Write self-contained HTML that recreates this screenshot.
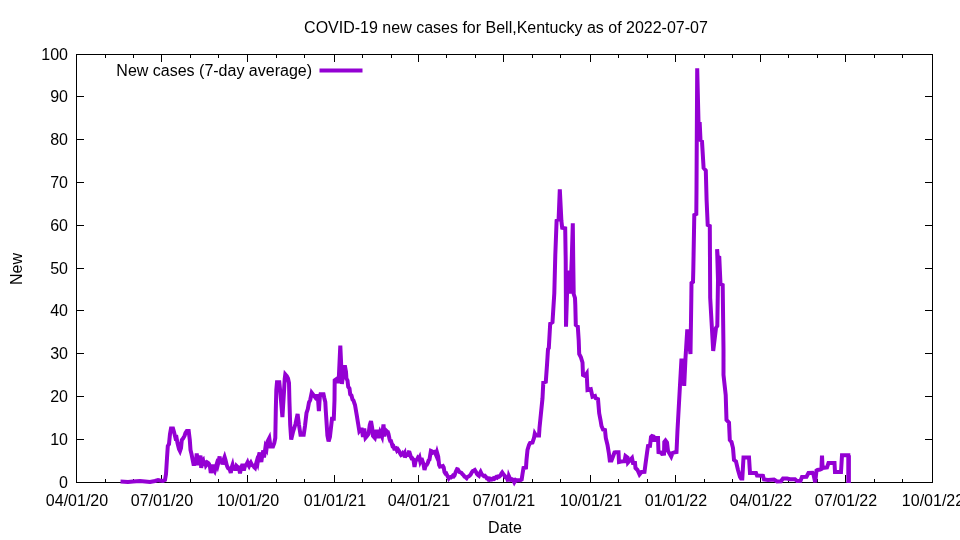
<!DOCTYPE html>
<html><head><meta charset="utf-8"><title>COVID-19 new cases for Bell,Kentucky</title>
<style>
html,body{margin:0;padding:0;background:#fff}
body{width:960px;height:540px;position:relative;overflow:hidden;font-family:"Liberation Sans",sans-serif;font-size:16px;color:#000}
div{position:absolute;will-change:transform;white-space:nowrap;line-height:18px;height:18px}
.yl{left:0;width:68px;text-align:right}
.xl{width:80px;text-align:center;top:492px}
#title{left:206px;width:600px;text-align:center;top:19px}
#xlab{left:405px;width:200px;text-align:center;top:519px}
#ylab{left:-33px;top:259.5px;width:100px;text-align:center;transform:rotate(-90deg)}
#key{left:62px;width:250px;text-align:right;top:62px}
</style></head><body>
<svg width="960" height="540" viewBox="0 0 960 540" style="position:absolute;left:0;top:0">
<g stroke="#000" stroke-width="1" fill="none" shape-rendering="crispEdges">
<rect x="76.5" y="54.5" width="856.0" height="428.0"/>
<path d="M76.5 482.5h7.5M932.5 482.5h-7.5M76.5 439.5h7.5M932.5 439.5h-7.5M76.5 396.5h7.5M932.5 396.5h-7.5M76.5 353.5h7.5M932.5 353.5h-7.5M76.5 310.5h7.5M932.5 310.5h-7.5M76.5 268.5h7.5M932.5 268.5h-7.5M76.5 225.5h7.5M932.5 225.5h-7.5M76.5 182.5h7.5M932.5 182.5h-7.5M76.5 139.5h7.5M932.5 139.5h-7.5M76.5 96.5h7.5M932.5 96.5h-7.5M76.5 54.5h7.5M932.5 54.5h-7.5M76.5 482.5v-7.5M76.5 54.5v7.5M161.5 482.5v-7.5M161.5 54.5v7.5M247.5 482.5v-7.5M247.5 54.5v7.5M334.5 482.5v-7.5M334.5 54.5v7.5M418.5 482.5v-7.5M418.5 54.5v7.5M503.5 482.5v-7.5M503.5 54.5v7.5M590.5 482.5v-7.5M590.5 54.5v7.5M675.5 482.5v-7.5M675.5 54.5v7.5M760.5 482.5v-7.5M760.5 54.5v7.5M845.5 482.5v-7.5M845.5 54.5v7.5M932.5 482.5v-7.5M932.5 54.5v7.5M105.5 482.5v-3.5M105.5 54.5v3.5M133.5 482.5v-3.5M133.5 54.5v3.5M190.5 482.5v-3.5M190.5 54.5v3.5M218.5 482.5v-3.5M218.5 54.5v3.5M276.5 482.5v-3.5M276.5 54.5v3.5M304.5 482.5v-3.5M304.5 54.5v3.5M362.5 482.5v-3.5M362.5 54.5v3.5M391.5 482.5v-3.5M391.5 54.5v3.5M446.5 482.5v-3.5M446.5 54.5v3.5M475.5 482.5v-3.5M475.5 54.5v3.5M532.5 482.5v-3.5M532.5 54.5v3.5M560.5 482.5v-3.5M560.5 54.5v3.5M618.5 482.5v-3.5M618.5 54.5v3.5M647.5 482.5v-3.5M647.5 54.5v3.5M704.5 482.5v-3.5M704.5 54.5v3.5M732.5 482.5v-3.5M732.5 54.5v3.5M788.5 482.5v-3.5M788.5 54.5v3.5M817.5 482.5v-3.5M817.5 54.5v3.5M874.5 482.5v-3.5M874.5 54.5v3.5M902.5 482.5v-3.5M902.5 54.5v3.5"/>
</g>
<polyline points="120.5,481.5 128.0,482.0 133.0,481.5 140.0,481.0 145.0,481.5 150.0,482.0 155.0,481.0 158.0,480.0 160.0,480.5 163.0,481.0 165.0,480.0 166.0,474.0 167.0,458.0 167.8,446.0 169.0,444.0 170.0,434.0 171.0,428.5 173.0,428.5 174.0,432.0 175.5,438.0 176.5,437.5 177.5,443.0 179.0,449.0 180.0,451.0 181.0,448.0 181.8,440.0 183.0,438.5 184.5,436.0 185.5,433.0 186.8,431.0 188.7,431.0 189.8,440.0 190.5,450.0 191.5,454.0 192.5,459.0 193.5,464.0 195.0,464.0 195.8,463.6 196.7,453.5 197.5,459.0 198.3,465.0 199.5,460.0 200.5,455.5 201.2,468.0 202.0,461.0 203.0,460.0 204.0,466.0 205.0,460.5 206.0,465.5 206.8,464.4 207.5,462.5 208.2,462.9 209.0,464.0 210.0,467.0 210.8,473.0 211.8,468.0 212.5,464.5 213.5,470.0 214.6,471.5 215.5,468.0 216.7,464.0 217.5,466.0 218.5,462.0 219.6,456.5 220.5,463.0 221.5,459.0 222.5,464.5 223.5,460.0 224.6,457.0 225.5,460.0 226.7,465.0 227.5,467.1 228.3,468.5 229.5,469.0 230.8,473.0 231.5,468.0 232.5,465.0 233.5,470.0 234.5,466.0 235.4,470.5 236.5,466.0 237.5,467.0 238.2,467.1 239.0,468.0 240.0,473.5 241.0,468.0 241.8,466.4 242.5,464.0 243.8,470.5 245.0,466.0 245.8,464.9 246.5,464.5 247.5,462.5 248.2,464.6 249.0,466.0 249.9,463.9 250.8,462.5 252.0,465.0 253.3,465.8 254.2,467.3 255.0,468.0 256.0,464.0 256.7,461.5 257.5,463.5 258.5,457.0 259.6,452.5 260.5,458.0 261.3,462.0 262.3,455.0 263.3,450.5 264.0,457.5 264.8,452.0 265.5,447.0 266.5,449.0 267.5,441.5 269.3,438.0 270.5,446.5 273.0,446.5 274.3,443.0 275.3,438.0 275.8,410.0 276.3,390.0 277.0,382.2 279.3,382.2 280.3,392.0 282.4,417.0 284.1,390.0 284.7,379.0 285.3,374.3 286.8,376.0 288.0,378.5 289.0,383.0 289.4,400.0 290.2,425.0 291.2,439.5 293.0,432.0 295.5,424.0 297.6,414.0 299.0,425.0 300.5,434.8 303.7,434.8 305.0,426.0 306.5,413.0 307.8,409.0 309.0,402.5 310.2,400.0 311.7,392.8 315.3,397.5 316.2,396.0 317.0,396.0 318.0,399.0 318.9,411.0 319.8,397.0 320.5,394.3 323.5,394.3 324.3,398.0 325.3,402.0 325.8,411.0 327.4,435.5 328.6,441.3 329.9,437.0 332.0,418.7 333.8,418.7 334.5,400.0 334.7,380.3 337.0,378.7 338.3,383.0 338.9,376.0 340.3,345.5 341.1,363.0 341.9,384.0 343.5,372.0 344.8,365.3 346.0,372.0 346.4,378.3 347.5,380.5 348.2,386.7 349.5,388.5 350.2,394.2 351.5,395.5 352.5,399.5 353.5,400.5 355.0,405.0 356.7,414.8 358.3,424.8 359.3,431.0 360.5,429.5 361.8,429.5 363.0,437.0 364.2,428.5 365.5,437.8 367.0,436.0 368.5,434.0 369.8,425.0 371.0,421.0 372.2,428.0 373.0,436.0 374.8,438.0 376.5,430.0 378.3,438.0 380.0,432.0 382.0,436.5 383.5,424.5 384.3,436.5 385.5,430.0 387.0,431.5 387.8,431.9 388.5,434.0 389.5,439.0 390.2,440.9 391.0,441.0 392.5,446.0 393.3,445.9 394.2,448.6 395.0,448.5 396.0,448.2 397.0,450.6 398.0,449.5 399.0,451.0 400.3,453.8 401.1,455.1 402.0,454.6 402.8,453.3 403.7,454.6 404.5,453.3 404.9,457.5 405.9,455.2 407.0,454.6 407.8,454.8 408.7,452.3 409.5,452.5 410.8,456.7 411.6,458.4 412.4,458.3 413.5,460.0 414.5,467.0 415.8,460.0 417.0,459.6 417.8,458.0 418.7,459.1 419.5,457.5 420.3,461.5 421.1,459.7 422.0,459.6 423.5,464.2 424.5,470.0 425.8,465.0 426.8,464.8 427.8,462.9 428.6,460.4 429.5,459.6 430.2,455.0 430.9,451.0 432.0,451.5 432.9,452.6 433.7,452.0 434.5,451.8 435.3,453.3 436.2,455.4 437.0,452.5 438.2,456.7 439.1,465.0 439.9,466.5 440.8,466.2 442.0,466.5 442.9,466.1 443.7,467.5 444.5,472.0 445.4,473.5 446.2,473.3 447.4,475.8 448.7,478.3 449.5,477.1 450.3,477.0 451.1,477.4 452.0,476.8 452.8,475.8 453.7,476.4 454.5,475.4 455.8,471.7 457.0,469.2 457.9,469.5 458.7,470.8 459.5,472.1 460.3,472.3 461.4,472.8 462.4,474.2 463.7,475.4 464.5,476.7 465.3,477.0 466.6,478.2 467.4,476.9 468.2,476.7 469.5,475.8 470.6,474.6 471.8,472.3 472.9,470.9 473.9,470.5 474.8,470.0 476.0,471.9 476.9,473.9 477.7,474.8 478.9,475.7 479.8,473.3 480.6,471.9 481.8,474.4 482.7,475.0 483.8,476.1 484.9,475.8 486.0,476.9 486.8,478.3 487.7,478.3 488.5,479.7 489.3,479.9 490.2,478.6 491.0,478.8 491.9,479.5 492.7,479.2 493.5,478.2 494.4,478.7 495.2,477.8 496.2,477.0 497.2,477.7 498.3,476.5 499.3,476.7 500.4,475.6 501.4,473.6 502.2,472.5 503.5,474.4 504.4,475.2 505.2,477.1 506.0,477.7 506.8,477.3 508.1,481.3 508.9,476.1 510.2,479.0 511.0,479.8 512.0,479.3 513.1,479.8 514.3,482.2 515.6,480.0 516.7,480.6 517.7,480.2 520.2,480.2 521.7,479.4 522.5,474.0 523.5,468.0 526.0,467.5 526.5,460.0 527.5,450.0 529.0,445.0 530.0,443.0 532.5,442.5 534.0,438.0 534.8,433.5 536.0,435.5 539.0,435.5 539.5,428.0 540.8,415.0 542.5,398.3 543.3,382.5 545.8,381.7 547.0,365.0 548.0,349.2 548.8,348.0 550.2,323.7 552.5,322.2 554.3,293.3 555.3,255.0 556.6,220.6 558.6,219.5 559.8,189.3 561.4,221.0 562.2,227.7 565.2,228.3 565.7,260.0 566.0,326.7 567.0,295.0 568.3,270.5 570.3,293.5 571.8,258.0 572.8,223.3 573.2,258.0 573.7,294.0 575.0,298.0 575.3,305.0 575.8,325.0 577.8,326.5 578.7,340.0 579.2,354.0 580.8,357.0 582.5,362.5 583.0,375.0 585.0,376.0 586.7,373.5 587.5,390.0 590.8,389.2 592.5,396.7 595.0,396.0 595.8,398.3 598.0,399.2 599.2,413.3 600.5,420.0 601.5,426.0 603.0,429.5 605.0,430.0 605.8,438.0 607.5,445.0 609.0,454.0 609.8,460.5 611.5,460.5 614.5,452.5 615.5,452.2 618.5,452.2 619.0,462.0 621.0,461.5 624.5,461.2 625.5,456.0 627.5,457.5 628.0,462.5 630.2,460.0 632.0,458.0 633.0,463.0 635.0,463.0 635.5,468.0 637.5,470.0 639.5,474.5 641.5,472.0 644.5,471.8 645.5,464.0 647.0,453.0 648.0,446.0 650.0,445.8 651.0,437.0 652.0,436.0 653.5,436.5 654.5,441.5 655.5,438.0 658.0,438.0 658.5,452.0 661.0,452.5 662.0,454.0 664.0,453.8 664.3,442.0 665.5,440.5 667.0,442.5 668.0,451.0 669.5,453.5 671.2,456.5 672.5,453.0 675.0,452.2 676.5,452.0 677.5,430.0 680.0,385.0 681.5,358.5 684.2,385.8 685.5,358.0 687.3,329.5 690.5,354.0 691.3,300.0 691.5,283.0 693.0,282.0 693.3,270.0 694.3,215.0 696.3,214.0 696.5,190.0 696.7,152.0 697.2,68.3 698.5,122.0 699.7,123.0 700.5,140.0 702.0,141.5 703.6,168.0 705.8,170.5 706.6,200.0 707.7,225.0 709.8,226.0 710.2,298.0 713.2,351.0 716.0,328.0 717.3,326.0 718.0,280.0 717.1,249.2 717.7,256.7 719.3,257.5 720.3,280.0 720.5,284.0 722.7,285.0 723.5,350.0 723.5,375.0 725.7,395.0 726.5,420.0 729.0,422.5 729.8,440.0 731.5,442.0 733.0,448.0 734.0,460.0 736.0,461.5 738.0,470.0 740.0,477.0 741.0,478.5 742.3,478.5 742.8,470.0 743.5,457.5 749.0,457.5 750.0,473.0 756.0,473.0 757.0,475.5 763.0,475.8 764.0,479.5 768.0,480.0 774.0,479.5 777.0,481.5 781.0,481.2 783.0,478.5 787.0,478.5 790.0,479.2 795.0,479.3 797.0,481.0 800.5,480.8 802.0,477.0 806.5,476.8 808.5,473.0 812.5,472.8 813.5,474.5 815.2,482.2 816.5,470.5 817.5,470.0 820.2,469.5 821.4,469.0 822.0,455.7 822.6,468.0 827.0,467.5 828.5,463.0 834.5,463.0 835.0,472.0 841.0,472.0 842.0,455.3 848.3,455.3 848.3,481.0 848.9,481.0 848.9,455.3" fill="none" stroke="#9400d3" stroke-width="4" stroke-linejoin="miter" stroke-miterlimit="4" stroke-linecap="butt"/>
<path d="M319.5 70.5H362.5" stroke="#9400d3" stroke-width="4" fill="none"/>
</svg>
<div id="title">COVID-19 new cases for Bell,Kentucky as of 2022-07-07</div>
<div id="key">New cases (7-day average)</div>
<div id="xlab">Date</div>
<div id="ylab">New</div>
<div class="yl" style="top:474.0px">0</div>
<div class="yl" style="top:431.0px">10</div>
<div class="yl" style="top:388.0px">20</div>
<div class="yl" style="top:345.0px">30</div>
<div class="yl" style="top:302.0px">40</div>
<div class="yl" style="top:260.0px">50</div>
<div class="yl" style="top:217.0px">60</div>
<div class="yl" style="top:174.0px">70</div>
<div class="yl" style="top:131.0px">80</div>
<div class="yl" style="top:88.0px">90</div>
<div class="yl" style="top:46.0px">100</div>
<div class="xl" style="left:37.0px">04/01/20</div>
<div class="xl" style="left:122.0px">07/01/20</div>
<div class="xl" style="left:208.0px">10/01/20</div>
<div class="xl" style="left:295.0px">01/01/21</div>
<div class="xl" style="left:379.0px">04/01/21</div>
<div class="xl" style="left:464.0px">07/01/21</div>
<div class="xl" style="left:551.0px">10/01/21</div>
<div class="xl" style="left:636.0px">01/01/22</div>
<div class="xl" style="left:721.0px">04/01/22</div>
<div class="xl" style="left:806.0px">07/01/22</div>
<div class="xl" style="left:893.0px">10/01/22</div>
</body></html>
